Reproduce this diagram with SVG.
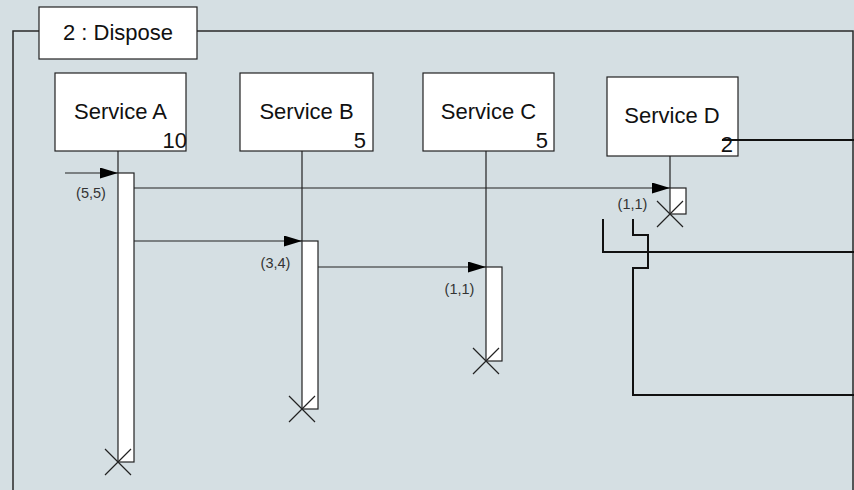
<svg xmlns="http://www.w3.org/2000/svg" width="854" height="490" viewBox="0 0 854 490">
<style>
.bg{fill:#d5dfe3}
.box{fill:#fff;stroke:#222;stroke-width:1.2}
.bar{fill:#fff;stroke:#222;stroke-width:1.2}
.ln{fill:none;stroke:#222;stroke-width:1.2}
.frame{fill:none;stroke:#2a2a2a;stroke-width:1.5}
.thick{fill:none;stroke:#111;stroke-width:2}
.t{font-family:"Liberation Sans",Arial,sans-serif;font-size:22px;fill:#111}
.s{font-family:"Liberation Sans",Arial,sans-serif;font-size:14.5px;fill:#333}
</style>
<defs>
<marker id="ah" markerWidth="18" markerHeight="11" refX="18" refY="5.5" orient="auto" markerUnits="userSpaceOnUse">
<path d="M0,0 L18,5.5 L0,11 Z" fill="#000"/>
</marker>
</defs>
<rect class="bg" x="0" y="0" width="854" height="490"/>
<g id="frame">
<path class="frame" d="M39,31 H13 V490 M197,31 H853 V490"/>
<rect class="box" x="39" y="7" width="158" height="52"/>
<text class="t" x="118" y="40" text-anchor="middle">2 : Dispose</text>
</g>
<g id="serviceA">
<rect class="box" x="55" y="73" width="131" height="78"/>
<text class="t" x="120.5" y="119" text-anchor="middle">Service A</text>
<text class="t" x="187" y="148" text-anchor="end">10</text>
<line class="ln" x1="118" y1="151" x2="118" y2="173"/>
<rect class="bar" x="118" y="173" width="16" height="289"/>
<path class="ln" d="M105,449 L131,475 M131,449 L105,475"/>
</g>
<g id="serviceB">
<rect class="box" x="240" y="73" width="133" height="78"/>
<text class="t" x="306.5" y="119" text-anchor="middle">Service B</text>
<text class="t" x="366" y="148" text-anchor="end">5</text>
<line class="ln" x1="302" y1="151" x2="302" y2="241"/>
<rect class="bar" x="302" y="241" width="16" height="168"/>
<path class="ln" d="M289,396 L315,422 M315,396 L289,422"/>
</g>
<g id="serviceC">
<rect class="box" x="423" y="73" width="131" height="78"/>
<text class="t" x="488.5" y="119" text-anchor="middle">Service C</text>
<text class="t" x="548" y="148" text-anchor="end">5</text>
<line class="ln" x1="486" y1="151" x2="486" y2="267"/>
<rect class="bar" x="486" y="267" width="16" height="94"/>
<path class="ln" d="M473,348 L499,374 M499,348 L473,374"/>
</g>
<g id="serviceD">
<rect class="box" x="607" y="77" width="131" height="79"/>
<text class="t" x="672" y="123" text-anchor="middle">Service D</text>
<text class="t" x="733" y="152" text-anchor="end">2</text>
<line class="ln" x1="670" y1="156" x2="670" y2="188"/>
<rect class="bar" x="670" y="188" width="16" height="26"/>
<path class="ln" d="M657,201 L683,227 M683,201 L657,227"/>
</g>
<g id="connectors">
<line class="ln" x1="65" y1="173" x2="118" y2="173" marker-end="url(#ah)"/>
<line class="ln" x1="134" y1="188" x2="670" y2="188" marker-end="url(#ah)"/>
<line class="ln" x1="134" y1="241" x2="302" y2="241" marker-end="url(#ah)"/>
<line class="ln" x1="318" y1="267" x2="486" y2="267" marker-end="url(#ah)"/>
<text class="s" x="91" y="198" text-anchor="middle">(5,5)</text>
<text class="s" x="275.5" y="268" text-anchor="middle">(3,4)</text>
<text class="s" x="459.5" y="294" text-anchor="middle">(1,1)</text>
<text class="s" x="632.5" y="209" text-anchor="middle">(1,1)</text>
<path class="thick" d="M722,140 H854"/>
<path class="thick" d="M603,219 V252 H854"/>
<path class="thick" d="M633,219 V235 H648 V268 H633 V395 H854"/>
</g>
</svg>
